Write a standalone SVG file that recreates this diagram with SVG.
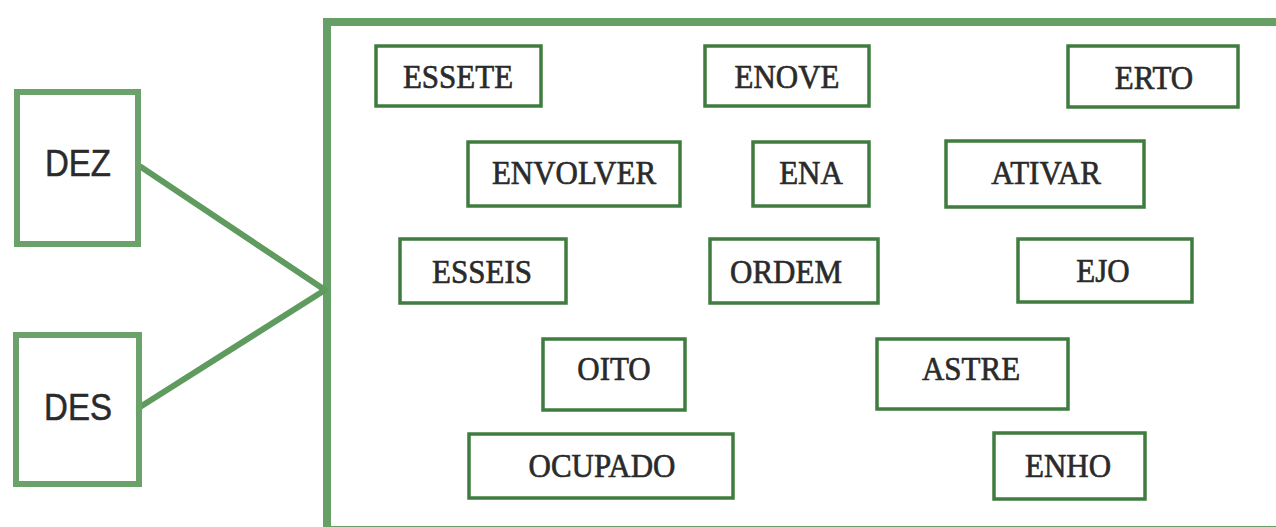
<svg xmlns="http://www.w3.org/2000/svg" width="1276" height="527" viewBox="0 0 1276 527">
<style>
.outer{fill:#fff;stroke:#6aa26a;stroke-width:6}
.cont{fill:#fff;stroke:#66a066;stroke-width:8}
.box{fill:#fff;stroke:#3f7c3f;stroke-width:3.5}
.conn{stroke:#5f9a5f;stroke-width:6;fill:none;stroke-linecap:round}
.sans{font-family:"Liberation Sans",Arial,sans-serif;font-size:33px;fill:#2a2a2a;stroke:#2a2a2a;stroke-width:0.5;text-anchor:middle}
.serif{font-family:"Liberation Serif","Times New Roman",serif;font-size:31px;fill:#2a2a2a;stroke:#2a2a2a;stroke-width:0.6;text-anchor:middle}
</style>
<rect width="1276" height="527" fill="#fff"/>
<g id="container"><rect class="cont" x="327" y="22" width="1000" height="508"/></g>
<g id="connectors">
<line class="conn" x1="141" y1="167" x2="325" y2="290"/>
<line class="conn" x1="140" y1="407" x2="325" y2="290"/>
</g>
<g id="dez"><rect class="outer" x="17" y="92" width="121" height="152"/><text class="sans" transform="translate(78,176) scale(1,1.14)">DEZ</text></g>
<g id="des"><rect class="outer" x="16" y="335" width="123" height="149"/><text class="sans" transform="translate(78,420) scale(1,1.14)">DES</text></g>
<g id="essete"><rect class="box" x="376" y="46" width="165" height="60"/><text class="serif" transform="translate(458,88) scale(1,1.12)">ESSETE</text></g>
<g id="enove"><rect class="box" x="705" y="46" width="164" height="60"/><text class="serif" transform="translate(787,88) scale(1,1.12)">ENOVE</text></g>
<g id="erto"><rect class="box" x="1068" y="46" width="170" height="61"/><text class="serif" transform="translate(1154,89) scale(1,1.12)">ERTO</text></g>
<g id="envolver"><rect class="box" x="468" y="142" width="212" height="64"/><text class="serif" transform="translate(574,184) scale(1,1.12)">ENVOLVER</text></g>
<g id="ena"><rect class="box" x="753" y="142" width="116" height="64"/><text class="serif" transform="translate(811,184) scale(1,1.12)">ENA</text></g>
<g id="ativar"><rect class="box" x="946" y="141" width="198" height="66"/><text class="serif" transform="translate(1046,184) scale(1,1.12)">ATIVAR</text></g>
<g id="esseis"><rect class="box" x="400" y="239" width="166" height="64"/><text class="serif" transform="translate(482,283) scale(1,1.12)">ESSEIS</text></g>
<g id="ordem"><rect class="box" x="710" y="239" width="168" height="64"/><text class="serif" transform="translate(786,283) scale(1,1.12)">ORDEM</text></g>
<g id="ejo"><rect class="box" x="1018" y="239" width="174" height="63"/><text class="serif" transform="translate(1103,282) scale(1,1.12)">EJO</text></g>
<g id="oito"><rect class="box" x="543" y="339" width="142" height="71"/><text class="serif" transform="translate(614,380) scale(1,1.12)">OITO</text></g>
<g id="astre"><rect class="box" x="877" y="339" width="191" height="70"/><text class="serif" transform="translate(971,380) scale(1,1.12)">ASTRE</text></g>
<g id="ocupado"><rect class="box" x="469" y="434" width="264" height="64"/><text class="serif" transform="translate(602,477) scale(1,1.12)">OCUPADO</text></g>
<g id="enho"><rect class="box" x="994" y="433" width="151" height="66"/><text class="serif" transform="translate(1068,477) scale(1,1.12)">ENHO</text></g>
</svg>
